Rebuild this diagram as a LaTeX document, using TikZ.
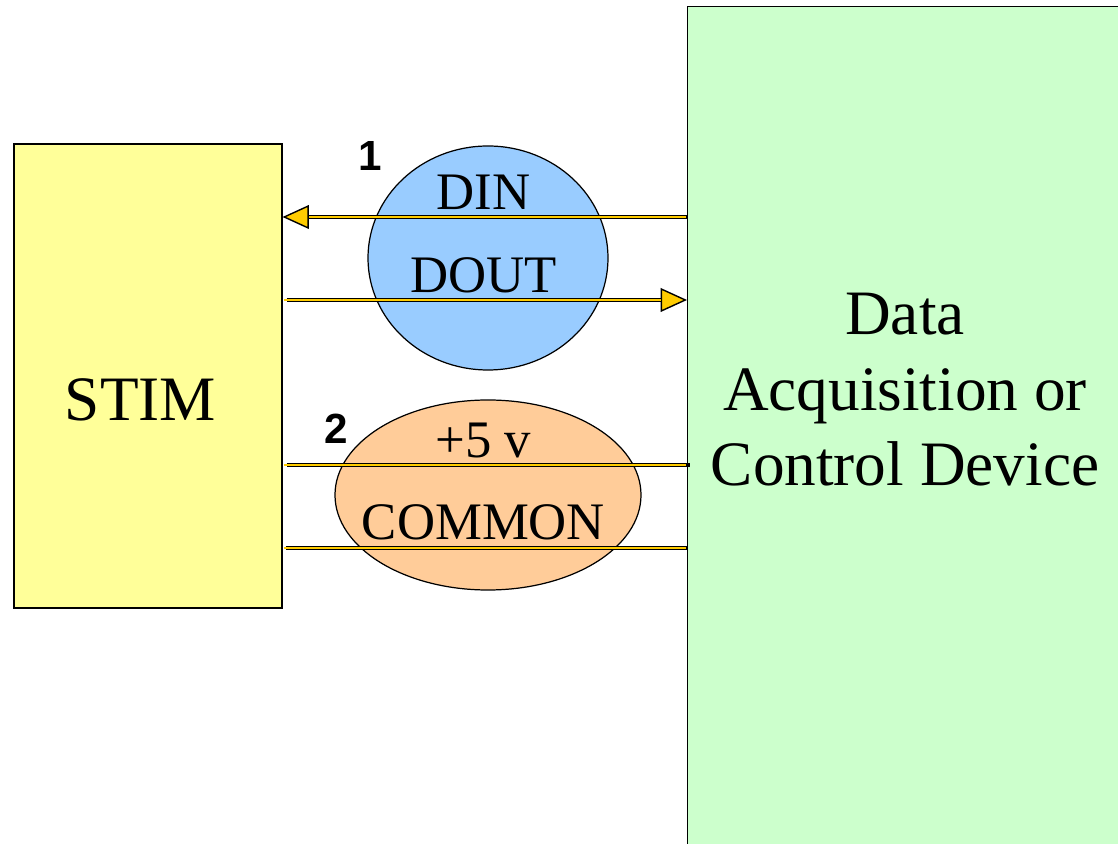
\documentclass[tikz,border=0pt]{standalone}
\usepackage{fontspec}
\setmainfont{Liberation Serif}
\newfontfamily\numfont{Liberation Sans}
\usetikzlibrary{arrows.meta,positioning,shapes.geometric}
\definecolor{stimyellow}{HTML}{FFFF99}
\definecolor{daqgreen}{HTML}{CCFFCC}
\definecolor{linkblue}{HTML}{99CCFF}
\definecolor{linkorange}{HTML}{FFCC99}
\definecolor{wireyellow}{HTML}{FFCC00}
\tikzset{
  unit/.style={draw=black, line width=0.6pt, inner sep=0pt},
  bundle/.style={ellipse, draw=black, line width=0.7pt, inner sep=0pt},
  lbl/.style={font=\fontsize{30}{30}\selectfont, inner sep=0pt, outer sep=0pt},
  bigtxt/.style={font=\fontsize{36}{43}\selectfont, align=center, inner sep=0pt},
  num/.style={font=\numfont\bfseries\fontsize{24}{24}\selectfont, inner sep=0pt},
  core/.style={draw=wireyellow, line width=1.4pt, arrows=-, shorten <=0.8pt, shorten >=0.8pt},
  wire/.style={draw=black, line width=2.6pt, postaction={core}},
  sigwire/.style={draw=black, line width=2.6pt,
    -{Triangle[length=15pt, width=13.5pt, fill=wireyellow, line width=0.8pt]},
    postaction={core, shorten >=15pt}},
}
\begin{document}
\begin{tikzpicture}
  \useasboundingbox (0,0) rectangle (22.36,16.88);
  \clip (0,0) rectangle (22.36,16.88);

  \node[unit, fill=stimyellow, minimum width=5.36cm, minimum height=9.28cm] (stim) at (2.96,9.36) {};
  \node[unit, fill=daqgreen, anchor=north west, minimum width=9cm, minimum height=18cm] (daq) at (13.74,16.76) {};

  \node[bundle, fill=linkblue, minimum width=4.8cm, minimum height=4.48cm] (bus1) at (9.76,11.72) {};
  \node[bundle, fill=linkorange, minimum width=6.12cm, minimum height=3.8cm] (bus2) at (9.76,6.98) {};

  \coordinate (dinw) at (9.67,12.54);
  \coordinate (doutw) at (9.67,10.88);
  \coordinate (vccw) at (9.67,7.58);
  \coordinate (comw) at (9.67,5.92);

  \draw[sigwire] (daq.west |- dinw) -- (stim.east |- dinw);
  \draw[sigwire, shorten <=0.08cm] (stim.east |- doutw) -- (daq.west |- doutw);
  \draw[wire, shorten <=0.08cm, shorten >=-0.06cm] (stim.east |- vccw) -- (daq.west |- vccw);
  \draw[wire, shorten <=0.06cm] (stim.east |- comw) -- (daq.west |- comw);

  \node[lbl, above=0.14cm of dinw] (din) {DIN};
  \node[lbl, above=0.14cm of doutw] (dout) {DOUT};
  \node[lbl, above=0.14cm of vccw] (vcc) {+5 v};
  \node[lbl, above=0.16cm of comw] (com) {COMMON};

  \node[num] (n1) at (7.40,13.76) {1};
  \node[num] (n2) at (6.72,8.30) {2};

  \node[bigtxt] (stimtxt) at (2.81,8.88) {STIM};
  \node[bigtxt] (daqtxt) at (18.10,9.08) {Data\\Acquisition or\\Control Device};
\end{tikzpicture}
\end{document}
